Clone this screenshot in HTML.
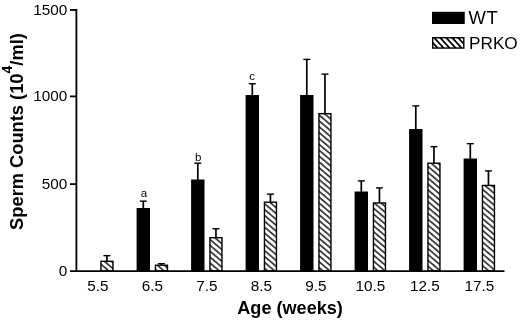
<!DOCTYPE html>
<html><head><meta charset="utf-8"><title>chart</title>
<style>
html,body{margin:0;padding:0;background:#fff;}
body{width:520px;height:322px;overflow:hidden;font-family:"Liberation Sans",sans-serif;}
svg{display:block;will-change:transform;}
text{font-family:"Liberation Sans",sans-serif;fill:#000;}
</style></head><body>
<svg width="520" height="322" viewBox="0 0 520 322">
<defs>
<pattern id="h" patternUnits="userSpaceOnUse" width="20" height="4.473" patternTransform="translate(319.5,232.75) rotate(40.36)">
<rect width="20" height="4.473" fill="#fff"/>
<path d="M-1,0 H21 M-1,4.473 H21" stroke="#000" stroke-width="1.3" fill="none"/>
</pattern>
<pattern id="h2" patternUnits="userSpaceOnUse" width="20" height="4.43" patternTransform="translate(434.7,38.26) rotate(47.7)">
<rect width="20" height="4.43" fill="#fff"/>
<path d="M-1,0 H21 M-1,4.43 H21" stroke="#000" stroke-width="1.6" fill="none"/>
</pattern>
</defs>
<rect width="520" height="322" fill="#fff"/>
<path d="M106.95,255.65 V261.60" stroke="#000" stroke-width="1.7" fill="none"/><path d="M103.45,255.65 H110.45" stroke="#000" stroke-width="1.4" fill="none"/>
<rect x="100.95" y="261.30" width="12.00" height="9.70" fill="url(#h)" stroke="#000" stroke-width="1.4"/>
<path d="M143.30,201.15 V209.00" stroke="#000" stroke-width="1.7" fill="none"/><path d="M139.80,201.15 H146.80" stroke="#000" stroke-width="1.4" fill="none"/>
<rect x="136.60" y="208.00" width="13.4" height="63.00" fill="#000"/>
<path d="M161.45,263.65 V265.50" stroke="#000" stroke-width="1.7" fill="none"/><path d="M157.95,263.65 H164.95" stroke="#000" stroke-width="1.4" fill="none"/>
<rect x="155.45" y="265.20" width="12.00" height="5.80" fill="url(#h)" stroke="#000" stroke-width="1.4"/>
<path d="M197.80,163.15 V180.50" stroke="#000" stroke-width="1.7" fill="none"/><path d="M194.30,163.15 H201.30" stroke="#000" stroke-width="1.4" fill="none"/>
<rect x="191.10" y="179.50" width="13.4" height="91.50" fill="#000"/>
<path d="M215.95,228.75 V238.00" stroke="#000" stroke-width="1.7" fill="none"/><path d="M212.45,228.75 H219.45" stroke="#000" stroke-width="1.4" fill="none"/>
<rect x="209.95" y="237.70" width="12.00" height="33.30" fill="url(#h)" stroke="#000" stroke-width="1.4"/>
<path d="M252.30,83.75 V96.00" stroke="#000" stroke-width="1.7" fill="none"/><path d="M248.80,83.75 H255.80" stroke="#000" stroke-width="1.4" fill="none"/>
<rect x="245.60" y="95.00" width="13.4" height="176.00" fill="#000"/>
<path d="M270.45,194.15 V202.50" stroke="#000" stroke-width="1.7" fill="none"/><path d="M266.95,194.15 H273.95" stroke="#000" stroke-width="1.4" fill="none"/>
<rect x="264.45" y="202.20" width="12.00" height="68.80" fill="url(#h)" stroke="#000" stroke-width="1.4"/>
<path d="M306.80,59.40 V96.00" stroke="#000" stroke-width="1.7" fill="none"/><path d="M303.30,59.40 H310.30" stroke="#000" stroke-width="1.4" fill="none"/>
<rect x="300.10" y="95.00" width="13.4" height="176.00" fill="#000"/>
<path d="M324.95,74.15 V114.00" stroke="#000" stroke-width="1.7" fill="none"/><path d="M321.45,74.15 H328.45" stroke="#000" stroke-width="1.4" fill="none"/>
<rect x="318.95" y="113.70" width="12.00" height="157.30" fill="url(#h)" stroke="#000" stroke-width="1.4"/>
<path d="M361.30,180.90 V192.50" stroke="#000" stroke-width="1.7" fill="none"/><path d="M357.80,180.90 H364.80" stroke="#000" stroke-width="1.4" fill="none"/>
<rect x="354.60" y="191.50" width="13.4" height="79.50" fill="#000"/>
<path d="M379.45,187.90 V203.25" stroke="#000" stroke-width="1.7" fill="none"/><path d="M375.95,187.90 H382.95" stroke="#000" stroke-width="1.4" fill="none"/>
<rect x="373.45" y="202.95" width="12.00" height="68.05" fill="url(#h)" stroke="#000" stroke-width="1.4"/>
<path d="M415.80,105.90 V130.00" stroke="#000" stroke-width="1.7" fill="none"/><path d="M412.30,105.90 H419.30" stroke="#000" stroke-width="1.4" fill="none"/>
<rect x="409.10" y="129.00" width="13.4" height="142.00" fill="#000"/>
<path d="M433.95,146.65 V163.50" stroke="#000" stroke-width="1.7" fill="none"/><path d="M430.45,146.65 H437.45" stroke="#000" stroke-width="1.4" fill="none"/>
<rect x="427.95" y="163.20" width="12.00" height="107.80" fill="url(#h)" stroke="#000" stroke-width="1.4"/>
<path d="M470.30,143.65 V159.50" stroke="#000" stroke-width="1.7" fill="none"/><path d="M466.80,143.65 H473.80" stroke="#000" stroke-width="1.4" fill="none"/>
<rect x="463.60" y="158.50" width="13.4" height="112.50" fill="#000"/>
<path d="M488.45,170.90 V185.75" stroke="#000" stroke-width="1.7" fill="none"/><path d="M484.95,170.90 H491.95" stroke="#000" stroke-width="1.4" fill="none"/>
<rect x="482.45" y="185.45" width="12.00" height="85.55" fill="url(#h)" stroke="#000" stroke-width="1.4"/>
<path d="M76.4,9 V272" stroke="#000" stroke-width="1.8" fill="none"/>
<path d="M70,271.1 H504.5" stroke="#000" stroke-width="1.8" fill="none"/>
<path d="M70,10 H76.4" stroke="#000" stroke-width="1.8" fill="none"/>
<path d="M70,96.4 H76.4" stroke="#000" stroke-width="1.8" fill="none"/>
<path d="M70,184.1 H76.4" stroke="#000" stroke-width="1.8" fill="none"/>
<text x="67.3" y="15.00" font-size="15.3" text-anchor="end">1500</text>
<text x="67.3" y="101.30" font-size="15.3" text-anchor="end">1000</text>
<text x="67.3" y="188.60" font-size="15.3" text-anchor="end">500</text>
<text x="67.3" y="276.40" font-size="15.3" text-anchor="end">0</text>
<text x="97.90" y="291.3" font-size="15.3" text-anchor="middle">5.5</text>
<text x="152.40" y="291.3" font-size="15.3" text-anchor="middle">6.5</text>
<text x="206.90" y="291.3" font-size="15.3" text-anchor="middle">7.5</text>
<text x="261.40" y="291.3" font-size="15.3" text-anchor="middle">8.5</text>
<text x="315.90" y="291.3" font-size="15.3" text-anchor="middle">9.5</text>
<text x="370.40" y="291.3" font-size="15.3" text-anchor="middle">10.5</text>
<text x="424.90" y="291.3" font-size="15.3" text-anchor="middle">12.5</text>
<text x="479.40" y="291.3" font-size="15.3" text-anchor="middle">17.5</text>
<text x="144" y="197" font-size="11.5" text-anchor="middle">a</text>
<text x="198.2" y="160.5" font-size="11.5" text-anchor="middle">b</text>
<text x="252" y="79.7" font-size="11.5" text-anchor="middle">c</text>
<text x="237.3" y="314.2" font-size="18.1" font-weight="bold">Age (weeks)</text>
<text transform="translate(22.5,229.9) rotate(-90)" font-size="18.3" font-weight="bold">Sperm Counts (10<tspan font-size="14" dy="-11">4</tspan><tspan dy="11">/ml)</tspan></text>
<rect x="432" y="11.8" width="32.75" height="12.2" fill="#000"/>
<rect x="432.7" y="37.75" width="31.1" height="10.3" fill="url(#h2)" stroke="#000" stroke-width="1.4"/>
<text x="468.4" y="23.8" font-size="18.4" style="font-kerning:none" letter-spacing="0.7">WT</text>
<text x="469" y="49" font-size="17.2">PRKO</text>
</svg></body></html>
